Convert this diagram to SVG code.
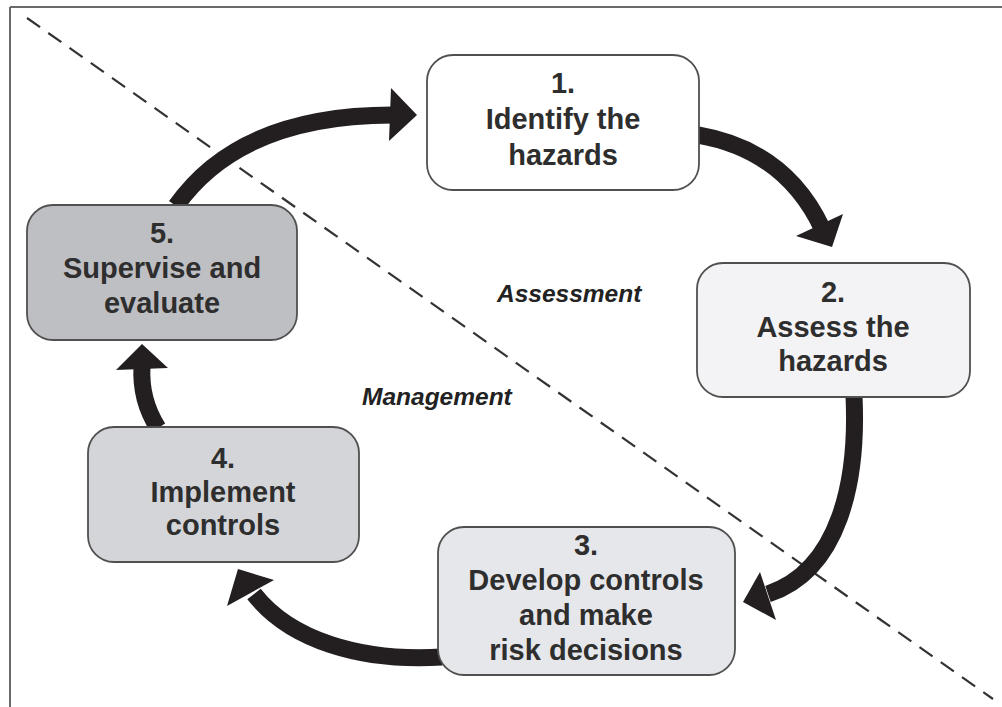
<svg xmlns="http://www.w3.org/2000/svg" width="1002" height="707" viewBox="0 0 1002 707">
<style>
.box{stroke:#505050;stroke-width:1.8}
.t{font-family:"Liberation Sans",Arial,sans-serif;font-weight:bold;font-size:29px;fill:#2e2e2e;text-anchor:middle}
.lab{font-family:"Liberation Sans",Arial,sans-serif;font-weight:bold;font-style:italic;font-size:24.5px;fill:#222}
.shaft{fill:none;stroke:#231f20;stroke-width:17}
.head{fill:#231f20}
</style>
<rect width="1002" height="707" fill="#ffffff"/>
<g id="frame" stroke="#6a6a6a" stroke-width="2" fill="none">
<line x1="10" y1="7" x2="1002" y2="7"/>
<line x1="10" y1="7" x2="10" y2="707"/>
</g>
<line id="divider" x1="27" y1="18" x2="993" y2="699" stroke="#333" stroke-width="2.2" stroke-dasharray="16 10"/>
<text class="lab" x="497" y="302">Assessment</text>
<text class="lab" x="362" y="405">Management</text>
<g id="connectors">
<path class="shaft" d="M176,206 Q240,115 393,115"/>
<polygon class="head" points="391,88 417,115 389,141"/>
<path class="shaft" d="M698,135 Q785,150 822,228"/>
<polygon class="head" points="796,236 843,214 832,247"/>
<path class="shaft" d="M854,396 C858,480 840,570 768,594"/>
<polygon class="head" points="760,572 743,602 776,620"/>
<path class="shaft" d="M442,657 C360,662 290,640 254,594"/>
<polygon class="head" points="274,580 238,569 227,606"/>
<path class="shaft" d="M158,428 Q140,400 142,366"/>
<polygon class="head" points="116,370 142,344 168,368"/>
</g>
<g id="n1">
<rect class="box" x="427" y="55" width="272" height="135" rx="26" fill="#ffffff"/>
<text class="t" x="563" y="93">1.</text>
<text class="t" x="563" y="129">Identify the</text>
<text class="t" x="563" y="165">hazards</text>
</g>
<g id="n2">
<rect class="box" x="697" y="263" width="273" height="134" rx="26" fill="#f3f3f5"/>
<text class="t" x="833" y="302">2.</text>
<text class="t" x="833" y="337">Assess the</text>
<text class="t" x="833" y="371">hazards</text>
</g>
<g id="n3">
<rect class="box" x="438" y="527" width="297" height="148" rx="26" fill="#e6e7ea"/>
<text class="t" x="586" y="555">3.</text>
<text class="t" x="586" y="590">Develop controls</text>
<text class="t" x="586" y="625">and make</text>
<text class="t" x="586" y="660">risk decisions</text>
</g>
<g id="n4">
<rect class="box" x="88" y="427" width="271" height="135" rx="26" fill="#d4d5d8"/>
<text class="t" x="223" y="468">4.</text>
<text class="t" x="223" y="502">Implement</text>
<text class="t" x="223" y="535">controls</text>
</g>
<g id="n5">
<rect class="box" x="27" y="205" width="270" height="135" rx="26" fill="#bebfc3"/>
<text class="t" x="162" y="243">5.</text>
<text class="t" x="162" y="278">Supervise and</text>
<text class="t" x="162" y="313">evaluate</text>
</g>
</svg>
